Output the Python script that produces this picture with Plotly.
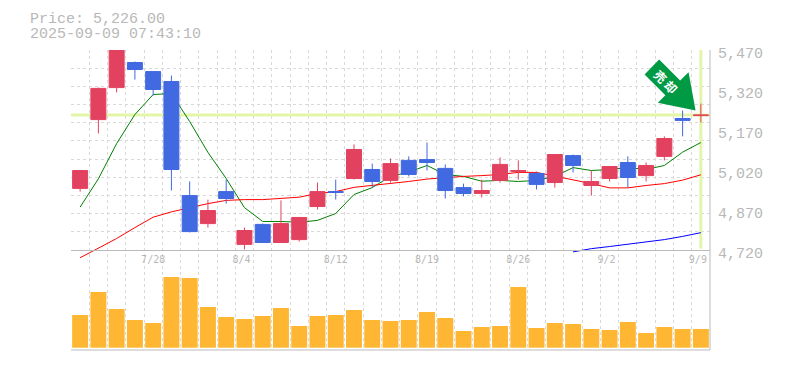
import plotly.graph_objects as go

TITLE_PRICE = "Price: 5,226.00"
TITLE_TIME = "2025-09-09 07:43:10"
CURRENT_PRICE = 5226

dates = ["7/22","7/23","7/24","7/25","7/28","7/29","7/30","7/31","8/1","8/4","8/5","8/6","8/7","8/8","8/12",
         "8/13","8/14","8/15","8/18","8/19","8/20","8/21","8/22","8/25","8/26","8/27","8/28","8/29","9/1","9/2",
         "9/3","9/4","9/5","9/8","9/9"]
label_dates = ["7/28","8/4","8/12","8/19","8/26","9/2","9/9"]
price_ticks = [4720, 4870, 5020, 5170, 5320, 5470]

open_ = [4951,5209,5329,5423,5389,5352,4924,4819,4939,4741,4816,4748,4759,4883,4939,4988,5022,4981,5056,5059,
         5026,4954,4932,4981,5014,5007,4973,5074,4962,4988,5048,4999,5071,5213,5224]
close = [5018,5326,5480,5397,5322,5022,4789,4868,4913,4793,4748,4819,4842,4939,4936,5097,4977,5044,5003,5048,
         4943,4932,4943,5041,5018,4966,5078,5037,4977,5033,4992,5037,5138,5206,5226]
high  = [5018,5329,5490,5427,5389,5374,4977,4909,4984,4804,4819,4906,4842,4973,4984,5116,5044,5063,5071,5123,
         5041,4969,4984,5067,5056,5014,5078,5078,5018,5033,5071,5048,5146,5243,5269]
low   = [4939,5157,5311,5359,5299,4943,4786,4804,4894,4722,4748,4748,4752,4872,4909,4984,4954,4973,4996,5018,
         4913,4921,4917,4973,4984,4947,4954,5011,4924,4977,4954,4977,5056,5146,5198]

ma_green = [4881,4987,5119,5228,5303,5307,5202,5086,4988,4879,4827,4827,4824,4831,4857,4928,4954,4996,5012,5037,
            5003,4996,4978,4981,4977,4981,4996,5029,5018,5022,5029,5022,5037,5087,5123]
ma_red   = [4691,4726,4763,4804,4843,4863,4879,4894,4906,4909,4909,4913,4918,4932,4939,4955,4962,4969,4977,4986,
            4992,4996,4999,5003,5011,5011,4997,4984,4969,4953,4953,4962,4969,4982,5002]
ma_blue  = [None]*27 + [4713,4725,4733,4742,4751,4759,4771,4785]

volume = [32700,55700,38700,27700,24700,70700,69700,40700,30700,28700,31700,39700,21700,31700,32700,37700,27700,26700,
          27700,35700,29700,16700,20700,21700,60700,19700,24700,23700,18700,17700,25700,14700,20700,18700,18700]

RED = "#E2425F"
BLUE = "#4169E1"
GRID = "#D9D9D9"
AXIS = "#BBBBBB"
TEXT = "#B8B8B8"
CROSS = "#E3F5A8"
ORANGE = "#FFB733"
MONO = "Liberation Mono"
MONO_SMALL = "DejaVu Sans Mono"
DASH = "3px,3px"

xs = list(range(len(dates)))
boundaries = [i - 0.5 for i in range(len(dates) + 1)]
# labels share a left edge, so shorter ones sit a little left of their candle
label_idx = [dates.index(d) - (4 - len(d)) * 3 / 18.26 for d in label_dates]
x_range = [-0.5, 34.5]
price_top = 5470
price_bottom = 4720
full_bottom = price_top - (price_top - price_bottom) * 1.5  # same scale, stretched over the volume panel

fig = go.Figure()
# lowest layer: moving averages, on a price scale that also spans the volume panel
for vals, col in [(ma_green, "#008000"), (ma_red, "#FF0000"), (ma_blue, "#0000FF")]:
    fig.add_trace(go.Scatter(x=xs, y=vals, mode="lines", line=dict(color=col, width=1),
                             xaxis="x", yaxis="y", showlegend=False))
fig.add_trace(go.Bar(x=xs, y=volume, marker=dict(color=ORANGE, line=dict(width=0)),
                     width=0.875, xaxis="x2", yaxis="y2", showlegend=False))
fig.add_trace(go.Candlestick(
    x=xs, open=open_, high=high, low=low, close=close, xaxis="x2", yaxis="y3",
    increasing=dict(line=dict(color=RED, width=1), fillcolor=RED),
    decreasing=dict(line=dict(color=BLUE, width=1), fillcolor=BLUE),
    whiskerwidth=0, showlegend=False,
))

fig.update_layout(
    width=785, height=370,
    margin=dict(l=70.5, r=75, t=50, b=20),
    paper_bgcolor="white", plot_bgcolor="rgba(0,0,0,0)",
    boxgap=0.18, boxgroupgap=0, bargap=0.125,
    font=dict(family=MONO, color=TEXT),
    xaxis=dict(
        domain=[0, 1], anchor="y", range=x_range,
        showticklabels=False, ticks="", showgrid=False, zeroline=False,
        minor=dict(tickmode="array", tickvals=boundaries, showgrid=True,
                   gridcolor=GRID, griddash=DASH, gridwidth=1, ticks=""),
    ),
    xaxis2=dict(
        domain=[0, 1], anchor="y3", range=x_range,
        tickmode="array", tickvals=label_idx, ticktext=label_dates,
        tickfont=dict(family=MONO_SMALL, size=10, color=TEXT), ticks="",
        showgrid=False, zeroline=False, rangeslider=dict(visible=False),
        showline=True, linecolor=AXIS, linewidth=1,
    ),
    yaxis=dict(
        domain=[0, 1], anchor="x", side="right", range=[full_bottom, price_top],
        tickmode="array", tickvals=price_ticks, ticktext=[f"{v:,}" for v in price_ticks],
        tickfont=dict(family=MONO, size=15, color=TEXT), ticks="", ticklabelshift=3, ticklabelstandoff=7,
        showgrid=False, zeroline=False,
        minor=dict(tickmode="array", tickvals=[price_bottom + i * 750 / 11 for i in range(12)], showgrid=True,
                   gridcolor=GRID, griddash=DASH, gridwidth=1, ticks=""),
    ),
    yaxis2=dict(domain=[0, 1/3], anchor="x2", range=[-2300, 97700], showticklabels=False,
                showgrid=False, zeroline=False, ticks=""),
    yaxis3=dict(domain=[1/3, 1], anchor="x2", range=[price_bottom, price_top], showticklabels=False,
                showgrid=False, zeroline=False, ticks=""),
    shapes=[
        dict(type="line", xref="x", yref="y", x0=-0.5, x1=34.5, y0=CURRENT_PRICE, y1=CURRENT_PRICE,
             line=dict(color=CROSS, width=3), layer="between"),
        dict(type="line", xref="x", yref="y", x0=34, x1=34, y0=4725, y1=5470,
             line=dict(color=CROSS, width=3), layer="between"),
        dict(type="line", xref="paper", yref="paper", x0=1, x1=1, y0=0, y1=1,
             line=dict(color=AXIS, width=1), layer="above"),
        dict(type="line", xref="paper", yref="paper", x0=0, x1=1, y0=0, y1=0,
             line=dict(color=AXIS, width=1), layer="above"),
        dict(type="path", xref="x", yref="y", xsizemode="pixel", ysizemode="pixel",
             xanchor=34, yanchor=CURRENT_PRICE,
             path="M -41.7 55.5 L -56.3 40.5 L -35.5 19.7 L -43 12.2 L -5.3 4.5 L -12.3 42.8 L -20.7 34.5 Z",
             fillcolor="#009944", line=dict(width=0), layer="above"),
    ],
    annotations=[
        dict(xref="paper", yref="paper", x=-43.5/639.5, y=1+(50-19.5)/300, text=TITLE_PRICE, showarrow=False,
             xanchor="left", yanchor="middle", font=dict(family=MONO, size=15, color=TEXT)),
        dict(xref="paper", yref="paper", x=-43.5/639.5, y=1+(50-34.5)/300, text=TITLE_TIME, showarrow=False,
             xanchor="left", yanchor="middle", font=dict(family=MONO, size=15, color=TEXT)),
        dict(xref="x", yref="y", x=34, y=CURRENT_PRICE, xshift=-34.5, yshift=34, text="<b>売 却</b>", showarrow=False,
             textangle=45, font=dict(family="Noto Sans CJK JP", size=12, color="white")),
    ],
)
fig.write_html("out.html", config=dict(displayModeBar=False),
               post_script="document.body.style.margin='0';")
